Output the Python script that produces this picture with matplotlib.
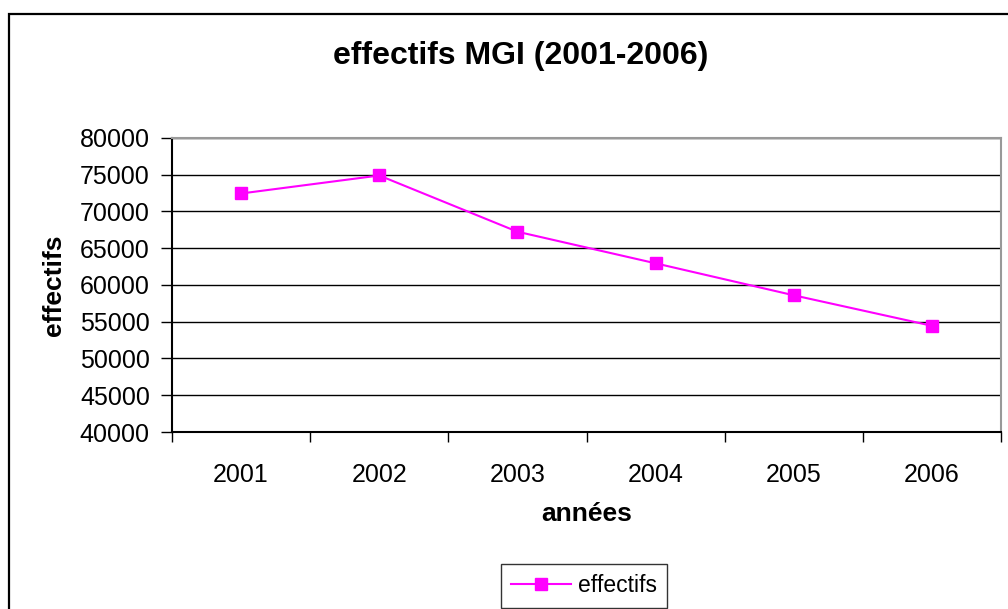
import matplotlib
matplotlib.use("Agg")
import matplotlib.pyplot as plt
from matplotlib.patches import Rectangle

years = ["2001", "2002", "2003", "2004", "2005", "2006"]
effectifs = [72450, 74900, 67250, 62950, 58600, 54450]
yticks = [40000, 45000, 50000, 55000, 60000, 65000, 70000, 75000, 80000]

plt.rcParams['font.family'] = ['Liberation Sans', 'DejaVu Sans']

W, H = 1008, 609
fig = plt.figure(figsize=(W / 100, H / 100), dpi=100)
fig.patch.set_facecolor('white')

# outer chart border (extends beyond right/bottom edges)
fig.patches.append(Rectangle((9 / W, -0.2), 1.2, 1.2 - 14 / H,
                             transform=fig.transFigure, fill=False,
                             edgecolor='black', linewidth=1.6, zorder=0))

left, right = 172 / W, 1001 / W
top, bottom = 1 - 138 / H, 1 - 432 / H
ax = fig.add_axes([left, bottom, right - left, top - bottom])

x = list(range(len(years)))
ax.plot(x, effectifs, color='#FF00FF', linewidth=1.5, marker='s',
        markersize=9, markerfacecolor='#FF00FF', markeredgecolor='#FF00FF',
        label='effectifs', zorder=3)

ax.set_xlim(-0.5, len(years) - 0.5)
ax.set_ylim(40000, 80000)
ax.set_yticks(yticks)
ax.set_yticklabels([str(v) for v in yticks], fontsize=18)
ax.set_xticks(x)
ax.set_xticklabels(years, fontsize=18)
ax.tick_params(axis='x', length=0, pad=22)
ax.set_xticks([i - 0.5 for i in range(len(years) + 1)], minor=True)
ax.tick_params(axis='x', which='minor', length=7, width=1, color='black', direction='out')
ax.tick_params(axis='y', length=8, width=1, color='black', direction='out', pad=8)

ax.grid(axis='y', color='black', linewidth=1)
ax.set_axisbelow(True)
for s in ['top', 'right']:
    ax.spines[s].set_color('#999999')
    ax.spines[s].set_linewidth(1.5)
for s in ['left', 'bottom']:
    ax.spines[s].set_color('black')
    ax.spines[s].set_linewidth(1.5)

ax.set_xlabel('années', fontsize=19, fontweight='bold', labelpad=11)
ax.set_ylabel('effectifs', fontsize=19, fontweight='bold', labelpad=10)

fig.text(521 / W, 1 - 56 / H, 'effectifs MGI (2001-2006)', fontsize=23,
         fontweight='bold', ha='center', va='center')

leg = fig.legend(loc='upper left', bbox_to_anchor=(501 / W, 1 - 564 / H),
                 fontsize=16.5, frameon=True, fancybox=False, borderpad=0.45,
                 handlelength=2.6, handletextpad=0.3, borderaxespad=0)
leg.get_frame().set_edgecolor('black')
leg.get_frame().set_linewidth(1)

fig.savefig('out.png', dpi=100)
